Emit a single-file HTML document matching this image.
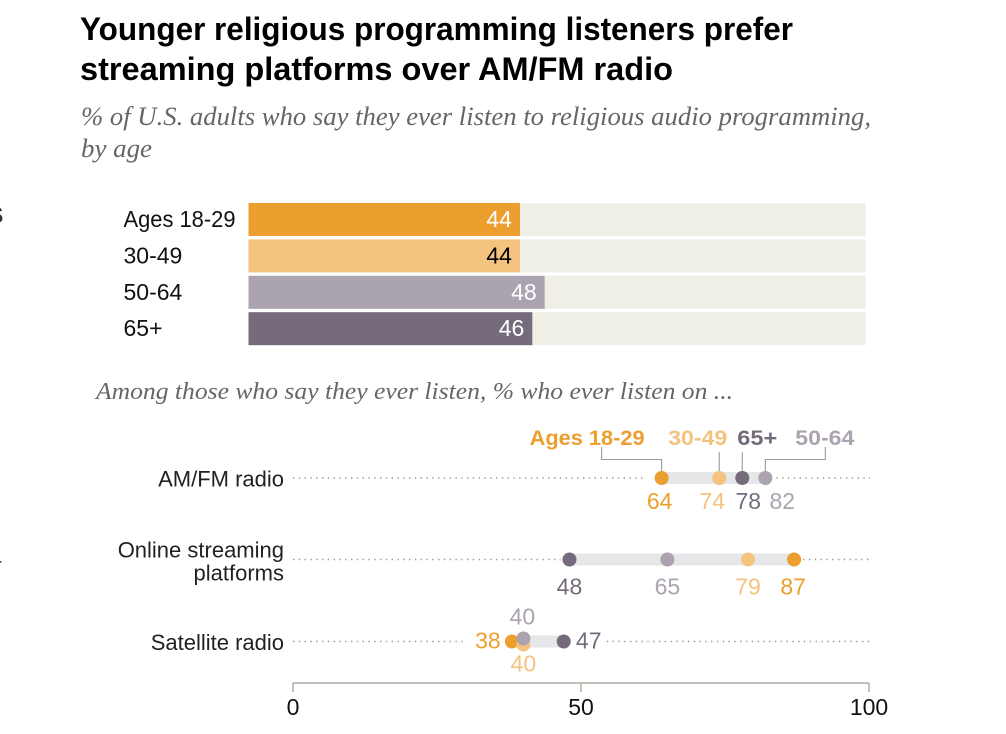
<!DOCTYPE html>
<html lang="en">
<head>
<meta charset="utf-8">
<title>Religious programming listeners by age</title>
<style>
html,body{margin:0;padding:0;background:#fff;width:1006px;height:734px;overflow:hidden}
svg{display:block}
text{font-family:"Liberation Sans",Arial,sans-serif}
.serif{font-family:"Liberation Serif",serif;font-style:italic;fill:#666}
</style>
</head>
<body>
<svg id="chart" width="1006" height="734" viewBox="0 0 1006 734" xmlns="http://www.w3.org/2000/svg">
  <text x="80" y="40" font-size="32" font-weight="700" fill="#000" textLength="713" lengthAdjust="spacingAndGlyphs">Younger religious programming listeners prefer</text>
  <text x="80" y="80" font-size="32" font-weight="700" fill="#000" textLength="593" lengthAdjust="spacingAndGlyphs">streaming platforms over AM/FM radio</text>
  <text class="serif" x="81" y="125" font-size="26" textLength="790" lengthAdjust="spacingAndGlyphs">% of U.S. adults who say they ever listen to religious audio programming,</text>
  <text class="serif" x="81" y="157" font-size="26" textLength="71" lengthAdjust="spacingAndGlyphs">by age</text>
  <text x="-12" y="223" font-size="23" font-weight="700" fill="#333">S</text>
  <text x="-5" y="572" font-size="20" fill="#333">r</text>
  <text class="serif" x="96" y="399" font-size="24" textLength="637" lengthAdjust="spacingAndGlyphs">Among those who say they ever listen, % who ever listen on ...</text>
  <g id="bars"></g>
  <g id="rows"></g>
  <g id="axis"></g>
</svg>
<script>
// Top bar chart data
const ageGroups = ['Ages 18-29', '30-49', '50-64', '65+'];
const everListen = [44, 44, 48, 46];

// Dumbbell chart data (order matches ageGroups)
const platforms = ['AM/FM radio', 'Online streaming|platforms', 'Satellite radio'];
const amfmValues = [64, 74, 82, 78];
const streamingValues = [87, 79, 65, 48];
const satelliteValues = [38, 40, 40, 47];
const axisTicks = [0, 50, 100];

const NS = 'http://www.w3.org/2000/svg';
const svgColors = ['#EC9F2E', '#F3C37F', '#ABA3AF', '#756B7D'];
const labelColors = ['#EC9F2E', '#F3C37F', '#ABA3AF', '#756B7D'];
const barTextColors = ['#fff', '#000', '#fff', '#fff'];

function make(tag, attrs, parent, text) {
  const el = document.createElementNS(NS, tag);
  for (const k in attrs) el.setAttribute(k, attrs[k]);
  if (text !== undefined) el.textContent = text;
  parent.appendChild(el);
  return el;
}
const xBar = v => 248.5 + v * 6.17;
const xDot = v => 293 + v * 5.76;

// Top bars
const barsG = document.getElementById('bars');
ageGroups.forEach((g, i) => {
  const y = 203 + i * 36.4;
  const bg = make('rect', {x: xBar(0), y: y, width: xBar(100) - xBar(0), height: 33, fill: '#F0EFE6'}, barsG);
  
  
  const bar = make('rect', {x: xBar(0), y: y, width: xBar(everListen[i]) - xBar(0), height: 33, fill: svgColors[i]}, barsG);
  
  
  const catAttrs = {x: 123.5, y: y + 24, 'font-size': 23, fill: '#111'};
  if (i === 0) { catAttrs.textLength = 112; catAttrs.lengthAdjust = 'spacingAndGlyphs'; }
  const lab = make('text', catAttrs, barsG, g);
  
  
  const val = make('text', {x: xBar(everListen[i]) - 8, y: y + 24, 'font-size': 23, 'text-anchor': 'end', fill: barTextColors[i]}, barsG, String(everListen[i]));
  
  
});

// Dumbbell rows
const rowsG = document.getElementById('rows');
const rowY = [478, 559.5, 641.5];
const rowValues = [amfmValues, streamingValues, satelliteValues];
// Label layout per row and age group: [dx, dy] relative to the dot
const labelNudge = [
  [[-2, 31], [-7, 31], [17, 31], [6, 31]],
  [[-1, 35], [0, 35], [0, 35], [0, 35]],
  [[-24, 7], [0, 30], [-1, -17], [25, 7]]
];
const dotShift = [[0, 0, 0, 0], [0, 0, 0, 0], [0, 3, -3, 0]];
const gapLeft = [16, 9, 45];
const gapRight = [11, 9, 43];

platforms.forEach((name, r) => {
  const vals = rowValues[r];
  const y = rowY[r];
  const lo = Math.min(...vals), hi = Math.max(...vals);

  const dl = make('line', {x1: xDot(0), x2: xDot(lo) - gapLeft[r], y1: y, y2: y, stroke: '#999', 'stroke-width': 1.4, 'stroke-dasharray': '1.4 4.4'}, rowsG);
  
  
  const dr = make('line', {x1: xDot(hi) + gapRight[r], x2: 870, y1: y, y2: y, stroke: '#999', 'stroke-width': 1.4, 'stroke-dasharray': '1.4 4.4'}, rowsG);
  
  

  const range = make('rect', {x: xDot(lo), y: y - 6, width: xDot(hi) - xDot(lo), height: 12, fill: '#E6E7E8'}, rowsG);
  
  

  const parts = name.split('|');
  parts.forEach((p, k) => {
    const ty = parts.length === 1 ? y + 8.5 : y - 2 + k * 23;
    const t = make('text', {x: 284, y: ty, 'font-size': 22, 'text-anchor': 'end', fill: '#222'}, rowsG, p);
    
    
  });

  if (r === 0) {
    const lx = vals.map(xDot);
    const leaders = [
      `M${lx[0] - 60} 447V459.5H${lx[0]}V${y}`,
      `M${lx[1]} 452V${y}`,
      `M${lx[3]} 452V${y}`,
      `M${lx[2] + 60} 447V459.5H${lx[2]}V${y}`
    ];
    leaders.forEach(d => {
      const l = make('path', {d: d, fill: 'none', stroke: '#9a9a9a', 'stroke-width': 1.1}, rowsG);
      
      
    });
    const legendX = [lx[0] - 132, lx[1] - 51, lx[2] + 30, lx[3] - 5];
    const legendW = [115, 59, 59, 40];
    ageGroups.forEach((g, i) => {
      const t = make('text', {x: legendX[i], y: 445, 'font-size': 21.5, 'font-weight': 700, fill: labelColors[i], textLength: legendW[i], lengthAdjust: 'spacingAndGlyphs'}, rowsG, g);
      
      
    });
  }

  const order = r === 2 ? [0, 3, 1, 2] : [0, 1, 2, 3];
  order.forEach(i => {
    const c = make('circle', {cx: xDot(vals[i]), cy: y + dotShift[r][i], r: 7, fill: svgColors[i]}, rowsG);
    
    
    const n = labelNudge[r][i];
    const t = make('text', {x: xDot(vals[i]) + n[0], y: y + n[1], 'font-size': 23, 'text-anchor': 'middle', fill: labelColors[i]}, rowsG, String(vals[i]));
    
    
  });
});

// Axis
const axisG = document.getElementById('axis');
const axisLine = make('line', {x1: xDot(0), x2: xDot(100), y1: 683, y2: 683, stroke: '#a09a90', 'stroke-width': 1.2}, axisG);


axisTicks.forEach(v => {
  const tk = make('line', {x1: xDot(v), x2: xDot(v), y1: 683, y2: 692, stroke: '#a09a90', 'stroke-width': 1.2}, axisG);
  
  
  const t = make('text', {x: xDot(v), y: 715, 'font-size': 23, 'text-anchor': 'middle', fill: '#111'}, axisG, String(v));
  
  
});
</script>
</body>
</html>
